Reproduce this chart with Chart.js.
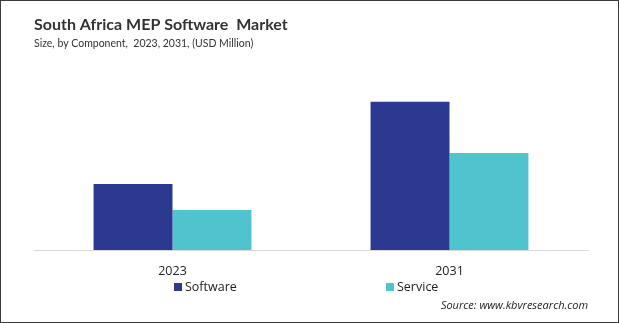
<!DOCTYPE html>
<html>
<head>
<meta charset="utf-8">
<script src="https://cdn.jsdelivr.net/npm/chart.js@4.4.1/dist/chart.umd.min.js"></script>
<style>
  body { margin: 0; background: #fff; }
  #wrap { position: relative; width: 619px; height: 323px; box-sizing: border-box; border: 1px solid #3a3a3a; }
  #src { position: absolute; right: 30px; top: 296px; font: italic 11px "Open Sans", sans-serif; color: #222; }
  .leg { position: absolute; top: 277px; font: 12.5px "Open Sans", sans-serif; color: #222; white-space: nowrap; }
  .leg i { display: inline-block; width: 8px; height: 8px; margin-right: 3px; vertical-align: 0px; }
</style>
</head>
<body>
<div id="wrap">
  <canvas id="myChart" width="617" height="321"></canvas>
  <div class="leg" style="left:173px"><i style="background:#2b3990"></i>Software</div>
  <div class="leg" style="left:385px"><i style="background:#4fc4cf"></i>Service</div>
  <div id="src">Source: www.kbvresearch.com</div>
</div>
<script>
// dados (USD Million, aproximado)
const years = ['2023', '2031'];
const software = [33.0, 74.0];
const service = [20.0, 48.5];

const ctx = document.getElementById('myChart');
new Chart(ctx, {
  type: 'bar',
  data: {
    labels: years,
    datasets: [
      { label: 'Software', data: software, backgroundColor: '#2b3990' },
      { label: 'Service', data: service, backgroundColor: '#4fc4cf' }
    ]
  },
  options: {
    responsive: false,
    animation: false,
    layout: { padding: { left: 33, right: 30, top: 4, bottom: 37 } },
    datasets: { bar: { categoryPercentage: 0.57, barPercentage: 1 } },
    scales: {
      x: {
        grid: { display: false },
        border: { display: true, color: '#d9d9d9' },
        ticks: { color: '#222', font: { family: 'Open Sans', size: 12.5 }, padding: 6 }
      },
      y: { display: false, min: 0, max: 90 }
    },
    plugins: {
      title: {
        display: true, align: 'start', text: 'South Africa MEP Software  Market',
        color: '#333', font: { family: 'Lato', size: 16, weight: 'bold' },
        padding: { top: 10, bottom: 2 }
      },
      subtitle: {
        display: true, align: 'start', text: 'Size, by Component,  2023, 2031, (USD Million)',
        color: '#333', font: { family: 'Lato', size: 10.5 },
        padding: { top: 1, bottom: 20 }
      },
      legend: { display: false },
      tooltip: { enabled: false }
    }
  }
});
</script>
</body>
</html>
